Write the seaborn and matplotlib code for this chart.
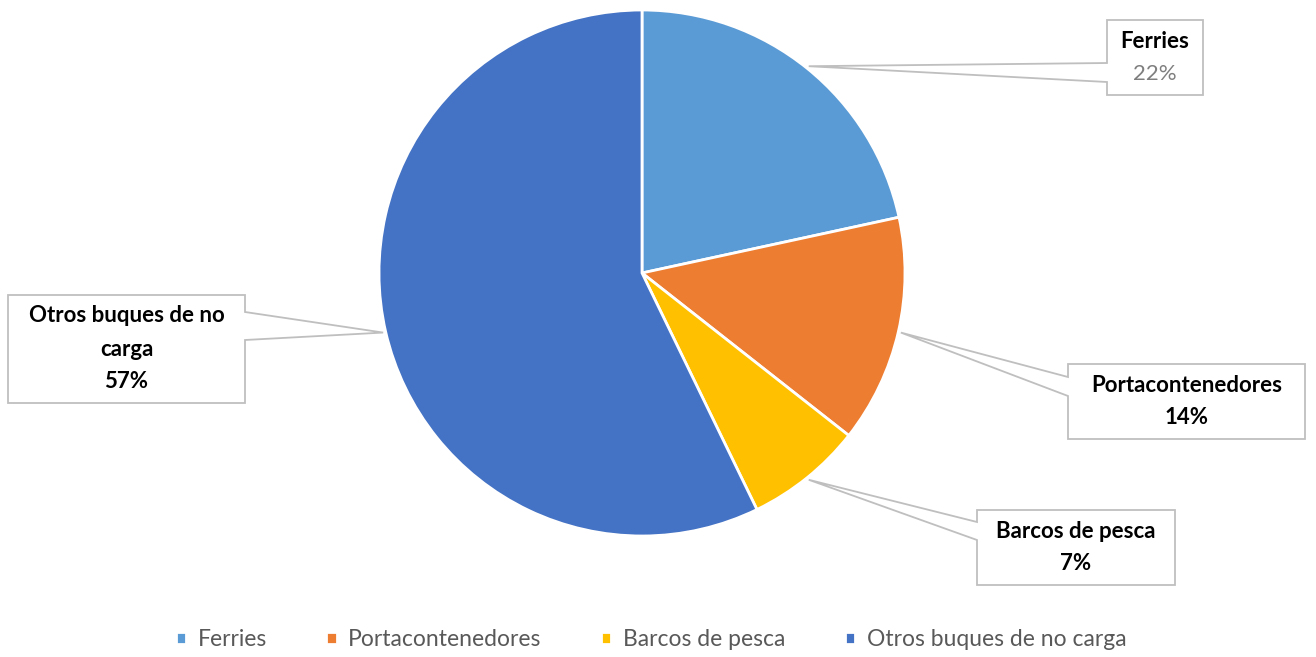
import numpy as np
import seaborn as sns
import matplotlib.pyplot as plt
from matplotlib.patches import Polygon

# data
categories = ["Ferries", "Portacontenedores", "Barcos de pesca", "Otros buques de no carga"]
shares = [21.6, 14.0, 7.2, 57.2]
box_names = ["Ferries", "Portacontenedores", "Barcos de pesca", "Otros buques de no\ncarga"]
colors = ["#5B9BD5", "#ED7D31", "#FFC000", "#4472C4"]

sns.set_theme(style="white")
plt.rcParams['font.family'] = ['Lato', 'DejaVu Sans']

H = 657
fig = plt.figure(figsize=(13.16, 6.57), dpi=100)
ax = fig.add_axes([0, 0, 1, 1])

cx, cy, r = 642, H - 273, 263
wedges, _ = ax.pie(shares, colors=sns.color_palette(colors), startangle=90, counterclock=False,
                   center=(cx, cy), radius=r, frame=True,
                   wedgeprops=dict(edgecolor='white', linewidth=2))
ax.set_xlim(0, 1316)
ax.set_ylim(0, H)
ax.set_aspect('equal')
ax.axis('off')

# callout boxes (image pixel coords: x0, x1, ytop, ybot, tail y1, tail y2, tail side)
boxes = [
    (1107, 1203, 20, 95, 63, 82, 'left'),
    (1068, 1305, 364, 439, 377, 396, 'left'),
    (977, 1175, 510, 585, 522, 540, 'left'),
    (8, 245, 295, 403, 312, 340, 'right'),
]
pct_styles = [('normal', '#7F7F7F'), ('bold', 'black'), ('bold', 'black'), ('bold', 'black')]

for w, name, share, box, (pw, pc) in zip(wedges, box_names, shares, boxes, pct_styles):
    mid = np.deg2rad((w.theta1 + w.theta2) / 2)
    tip = (cx + r * 1.01 * np.cos(mid), cy + r * 1.01 * np.sin(mid))
    x0, x1, yt, yb, t1, t2, side = box
    yt, yb, t1, t2 = H - yt, H - yb, H - t1, H - t2
    if side == 'left':
        pts = [(x0, yt), (x1, yt), (x1, yb), (x0, yb), (x0, t2), tip, (x0, t1)]
    else:
        pts = [(x0, yt), (x1, yt), (x1, t1), tip, (x1, t2), (x1, yb), (x0, yb)]
    ax.add_patch(Polygon(pts, closed=True, facecolor='white', edgecolor='#BFBFBF',
                         linewidth=1.3, zorder=5))
    xm = (x0 + x1) / 2
    lines = name.split('\n')
    step = 33
    n = len(lines) + 1
    ys = [(yt + yb) / 2 + step * ((n - 1) / 2 - i) for i in range(n)]
    for y, line in zip(ys, lines):
        ax.text(xm, y, line, ha='center', va='center', fontsize=16,
                fontweight='bold', color='black', zorder=6)
    ax.text(xm, ys[-1], f"{round(share)}%", ha='center', va='center', fontsize=16,
            fontweight=pw, color=pc, zorder=6)

leg = ax.legend(wedges, categories, loc='center', bbox_to_anchor=(0.5 - 7 / 1316, 17 / H), ncol=4,
                frameon=False, fontsize=16.5, handlelength=0.45, handleheight=0.45,
                handletextpad=0.5, columnspacing=2.6)
for t in leg.get_texts():
    t.set_color('#595959')

fig.savefig('out.png', dpi=100)
